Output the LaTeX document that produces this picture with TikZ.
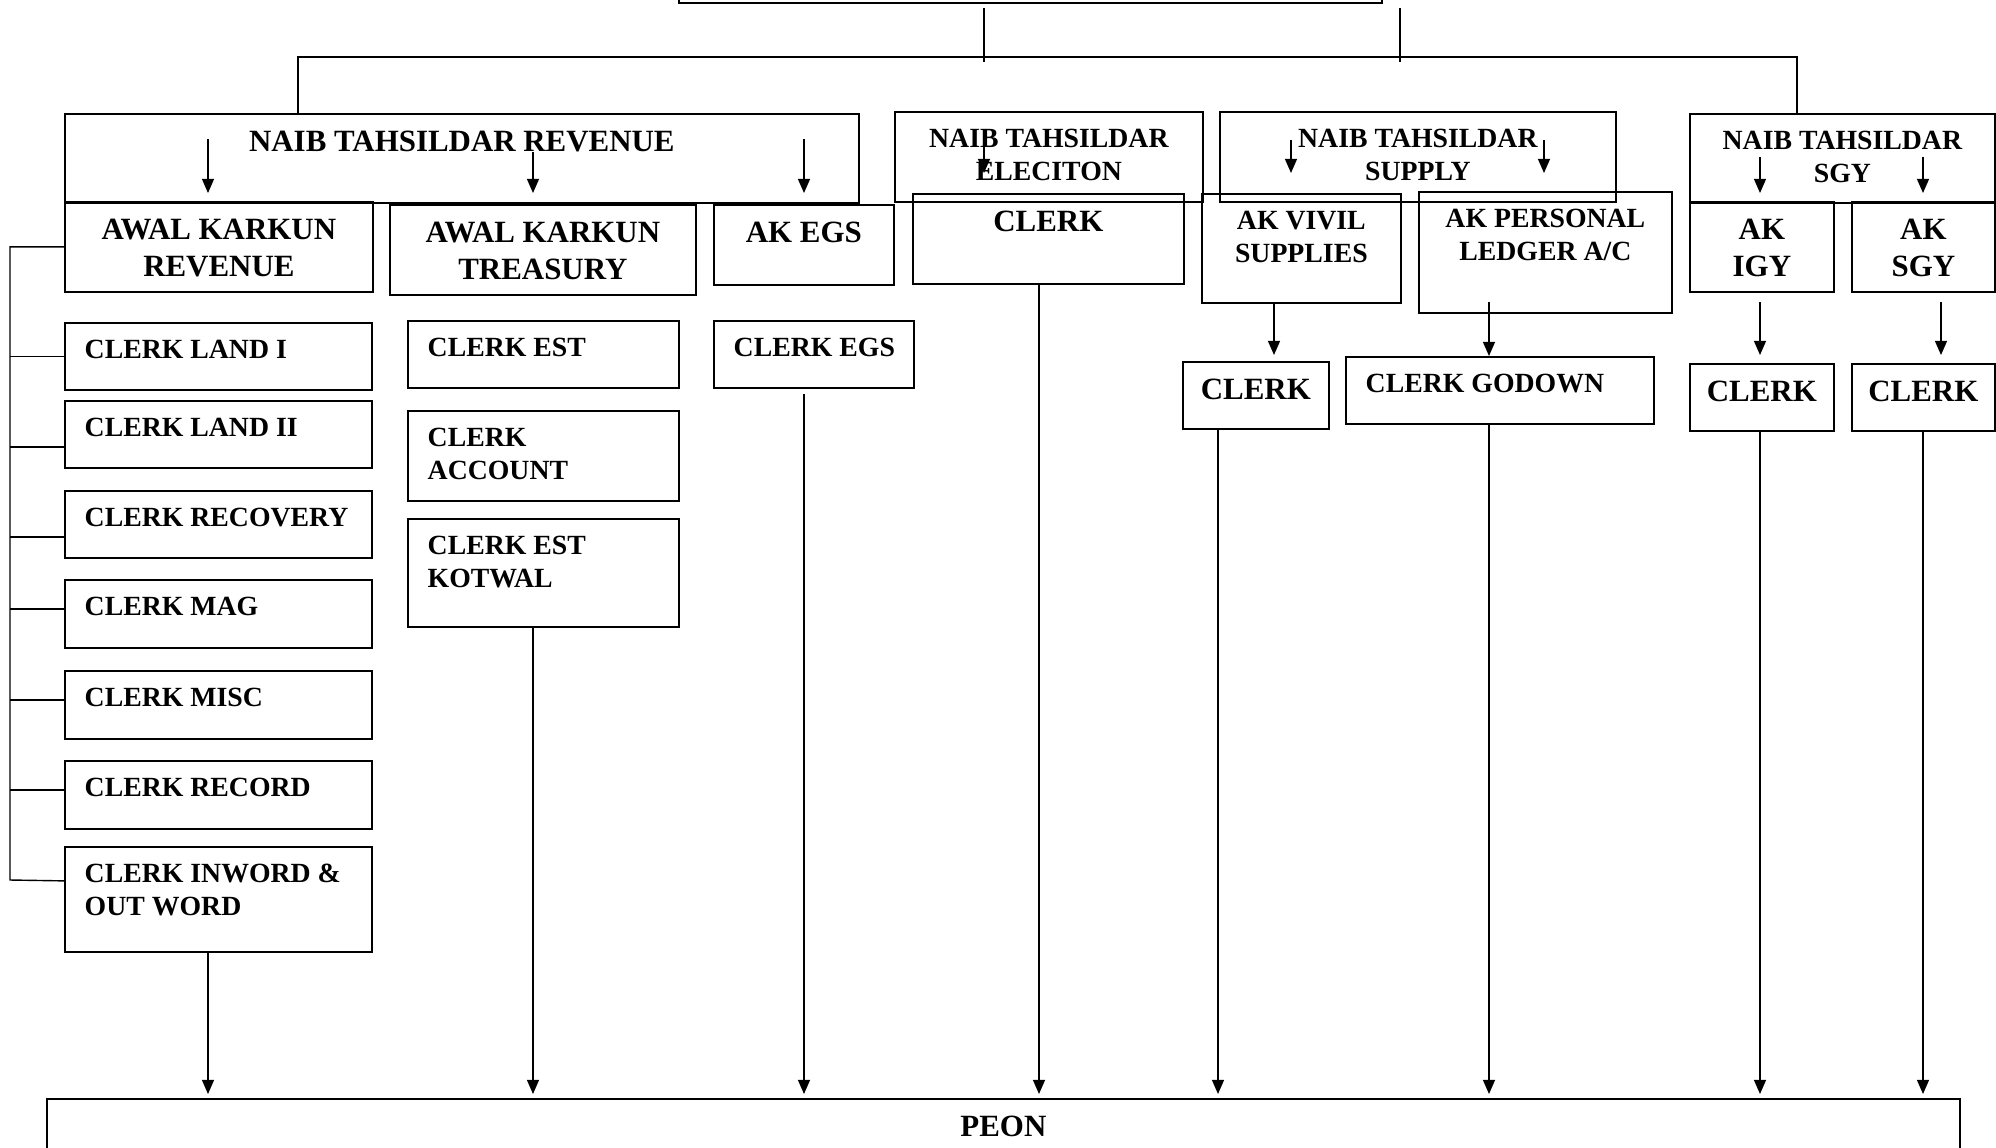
\documentclass[tikz,border=0pt]{standalone}
\usepackage{fontspec}
\setmainfont{Liberation Serif}
\usepackage{tikz}
\usetikzlibrary{arrows.meta}
\newcommand{\bigtxt}{\fontsize{8.8}{10.5}\selectfont\bfseries}
\newcommand{\smalltxt}{\fontsize{7.9}{9.4}\selectfont\bfseries}

\begin{document}
\begin{tikzpicture}[scale=1]
        % ================= 样式定义 =================
        \tikzset{
            % 方框:黑边,文字放在标签里
            box/.style={draw=black, line width=0.5pt, anchor=north west, inner sep=0pt},
            % 文字:居中(大/小)或靠左
            bigmid/.style={label={[anchor=north, align=center, inner xsep=0pt, inner ysep=5pt, font=\bigtxt]north:#1}},
            smallmid/.style={label={[anchor=north, align=center, inner xsep=0pt, inner ysep=5pt, font=\smalltxt]north:#1}},
            smallleft/.style={label={[anchor=north west, align=left, inner xsep=5.7pt, inner ysep=5pt, font=\smalltxt]north west:#1}},
            % 连线
            link/.style={line width=0.4pt, black},
            arr/.style={link, -{Triangle[length=4pt, width=3.4pt]}}
        }

        \useasboundingbox (0,0) rectangle (19.96,-11.48);

        % ================= 1. 顶部 =================
        \node[box, minimum width=7.03cm, minimum height=0.8cm] (tahsil) at (6.78,0.78) {};

        % 四个 NAIB TAHSILDAR
        \node[box, minimum width=7.94cm, minimum height=0.89cm, bigmid={NAIB TAHSILDAR REVENUE}] (ntrev) at (0.64,-1.13) {};
        \node[box, minimum width=3.08cm, minimum height=0.90cm, smallmid={NAIB TAHSILDAR\\ELECITON}] (ntele) at (8.94,-1.11) {};
        \node[box, minimum width=3.96cm, minimum height=0.90cm, smallmid={NAIB TAHSILDAR\\SUPPLY}] (ntsup) at (12.19,-1.11) {};
        \node[box, minimum width=3.05cm, minimum height=0.89cm, smallmid={NAIB TAHSILDAR\\SGY}] (ntsgy) at (16.89,-1.13) {};

        % ================= 2. 第二层 =================
        \node[box, minimum width=3.08cm, minimum height=0.90cm, bigmid={AWAL KARKUN\\REVENUE}] (akrev) at (0.64,-2.01) {};
        \node[box, minimum width=3.06cm, minimum height=0.90cm, bigmid={AWAL KARKUN\\TREASURY}] (aktre) at (3.89,-2.04) {};
        \node[box, minimum width=1.80cm, minimum height=0.80cm, bigmid={AK EGS}] (akegs) at (7.13,-2.04) {};
        \node[box, minimum width=2.71cm, minimum height=0.90cm, bigmid={CLERK}] (clkele) at (9.12,-1.93) {};
        \node[box, minimum width=1.99cm, minimum height=1.09cm, smallmid={AK VIVIL\\SUPPLIES}] (akviv) at (12.01,-1.93) {};
        \node[box, minimum width=2.53cm, minimum height=1.21cm, smallmid={AK PERSONAL\\LEDGER A/C}] (akper) at (14.18,-1.91) {};
        \node[box, minimum width=1.44cm, minimum height=0.90cm, bigmid={AK\\IGY}] (akigy) at (16.89,-2.01) {};
        \node[box, minimum width=1.43cm, minimum height=0.90cm, bigmid={AK\\SGY}] (aksgy) at (18.51,-2.01) {};

        % ================= 3. CLERK =================
        % 左列
        \node[box, minimum width=3.07cm, minimum height=0.67cm, smallleft={CLERK LAND I}] (land1) at (0.64,-3.22) {};
        \node[box, minimum width=3.07cm, minimum height=0.67cm, smallleft={CLERK LAND II}] (land2) at (0.64,-4.00) {};
        \node[box, minimum width=3.07cm, minimum height=0.67cm, smallleft={CLERK RECOVERY}] (recov) at (0.64,-4.90) {};
        \node[box, minimum width=3.07cm, minimum height=0.68cm, smallleft={CLERK MAG}] (mag) at (0.64,-5.79) {};
        \node[box, minimum width=3.07cm, minimum height=0.68cm, smallleft={CLERK MISC}] (misc) at (0.64,-6.70) {};
        \node[box, minimum width=3.07cm, minimum height=0.68cm, smallleft={CLERK RECORD}] (record) at (0.64,-7.60) {};
        \node[box, minimum width=3.07cm, minimum height=1.05cm, smallleft={CLERK INWORD \&\\OUT WORD}] (inword) at (0.64,-8.46) {};

        % 第二列
        \node[box, minimum width=2.71cm, minimum height=0.67cm, smallleft={CLERK EST}] (clkest) at (4.07,-3.20) {};
        \node[box, minimum width=2.71cm, minimum height=0.90cm, smallleft={CLERK\\ACCOUNT}] (clkacc) at (4.07,-4.10) {};
        \node[box, minimum width=2.71cm, minimum height=1.08cm, smallleft={CLERK EST\\KOTWAL}] (clkkot) at (4.07,-5.18) {};

        % 其余
        \node[box, minimum width=2.00cm, minimum height=0.67cm, smallleft={CLERK EGS}] (clkegs) at (7.13,-3.20) {};
        \node[box, minimum width=1.46cm, minimum height=0.67cm, bigmid={CLERK}] (clksup) at (11.82,-3.61) {};
        \node[box, minimum width=3.08cm, minimum height=0.67cm, smallleft={CLERK GODOWN}] (clkgod) at (13.45,-3.56) {};
        \node[box, minimum width=1.44cm, minimum height=0.67cm, bigmid={CLERK}] (clkigy) at (16.89,-3.63) {};
        \node[box, minimum width=1.43cm, minimum height=0.67cm, bigmid={CLERK}] (clksgy) at (18.51,-3.63) {};

        % 底部
        \node[box, minimum width=19.13cm, minimum height=0.8cm, bigmid={PEON}] (peon) at (0.46,-10.98) {};

        % ================= 4. 连线 =================
        % --- 顶部横线 ---
        \coordinate (t1) at (9.84,-0.08);
        \coordinate (t2) at (14.00,-0.08);
        \coordinate (busL) at (2.98,-0.57);
        \coordinate (busR) at (17.97,-0.57);
        \draw[link] (t1) -- ++(0,-0.54);
        \draw[link] (t2) -- ++(0,-0.54);
        \draw[link] (busL |- ntrev.north) -- (busL) -- (busR) -- (busR |- ntsgy.north);

        % --- 方框里的箭头 ---
        \coordinate (r1) at (2.08,-1.39);
        \coordinate (r2) at (5.33,-1.52);
        \coordinate (r3) at (8.04,-1.39);
        \draw[arr, shorten >=0.08cm] (r1) -- (r1 |- akrev.north);
        \draw[arr, shorten >=0.11cm] (r2) -- (r2 |- aktre.north);
        \draw[arr, shorten >=0.11cm] (r3) -- (r3 |- akegs.north);

        \coordinate (e1) at (9.84,-1.37);
        \draw[arr, shorten >=0.20cm] (e1) -- (e1 |- clkele.north);

        \coordinate (s1) at (12.91,-1.40);
        \coordinate (s2) at (15.44,-1.40);
        \draw[arr, shorten >=0.20cm] (s1) -- (s1 |- akviv.north);
        \draw[arr, shorten >=0.18cm] (s2) -- (s2 |- akper.north);

        \coordinate (g1) at (17.60,-1.57);
        \coordinate (g2) at (19.23,-1.57);
        \draw[arr, shorten >=0.08cm] (g1) -- (g1 |- akigy.north);
        \draw[arr, shorten >=0.08cm] (g2) -- (g2 |- aksgy.north);

        % --- AK 到 CLERK ---
        \coordinate (v1) at (12.74,-3.02);
        \coordinate (p1) at (14.89,-3.02);
        \coordinate (i1) at (17.60,-3.02);
        \coordinate (i2) at (19.41,-3.02);
        \draw[arr, shorten >=0.06cm] (v1) -- (v1 |- clksup.north);
        \draw[arr] (p1) -- (p1 |- clkgod.north);
        \draw[arr, shorten >=0.08cm] (i1) -- (i1 |- clkigy.north);
        \draw[arr, shorten >=0.08cm] (i2) -- (i2 |- clksgy.north);

        % --- 左侧括号 ---
        \coordinate (brk) at (0.10,-8.80);
        \draw[link] (akrev.west) -| (brk) -- ([yshift=0.185cm]inword.west);
        \draw[link] (land1.west) -- ++(-0.54,0);
        \draw[link] ([yshift=-0.125cm]land2.west) -- ++(-0.54,0);
        \draw[link] ([yshift=-0.125cm]recov.west) -- ++(-0.54,0);
        \draw[link] ([yshift=0.05cm]mag.west) -- ++(-0.54,0);
        \draw[link] ([yshift=0.05cm]misc.west) -- ++(-0.54,0);
        \draw[link] ([yshift=0.05cm]record.west) -- ++(-0.54,0);

        % --- 到 PEON 的长箭头 ---
        \draw[arr, shorten >=0.04cm] (2.08,0 |- inword.south) -- (2.08,0 |- peon.north);
        \draw[arr, shorten >=0.04cm] (5.33,0 |- clkkot.south) -- (5.33,0 |- peon.north);
        \draw[arr, shorten >=0.04cm] ([yshift=-0.05cm]8.04,0 |- clkegs.south) -- (8.04,0 |- peon.north);
        \draw[arr, shorten >=0.04cm] (10.39,0 |- clkele.south) -- (10.39,0 |- peon.north);
        \draw[arr, shorten >=0.04cm] (12.18,0 |- clksup.south) -- (12.18,0 |- peon.north);
        \draw[arr, shorten >=0.04cm] (14.89,0 |- clkgod.south) -- (14.89,0 |- peon.north);
        \draw[arr, shorten >=0.04cm] (17.60,0 |- clkigy.south) -- (17.60,0 |- peon.north);
        \draw[arr, shorten >=0.04cm] (19.23,0 |- clksgy.south) -- (19.23,0 |- peon.north);

    \end{tikzpicture}
\end{document}
